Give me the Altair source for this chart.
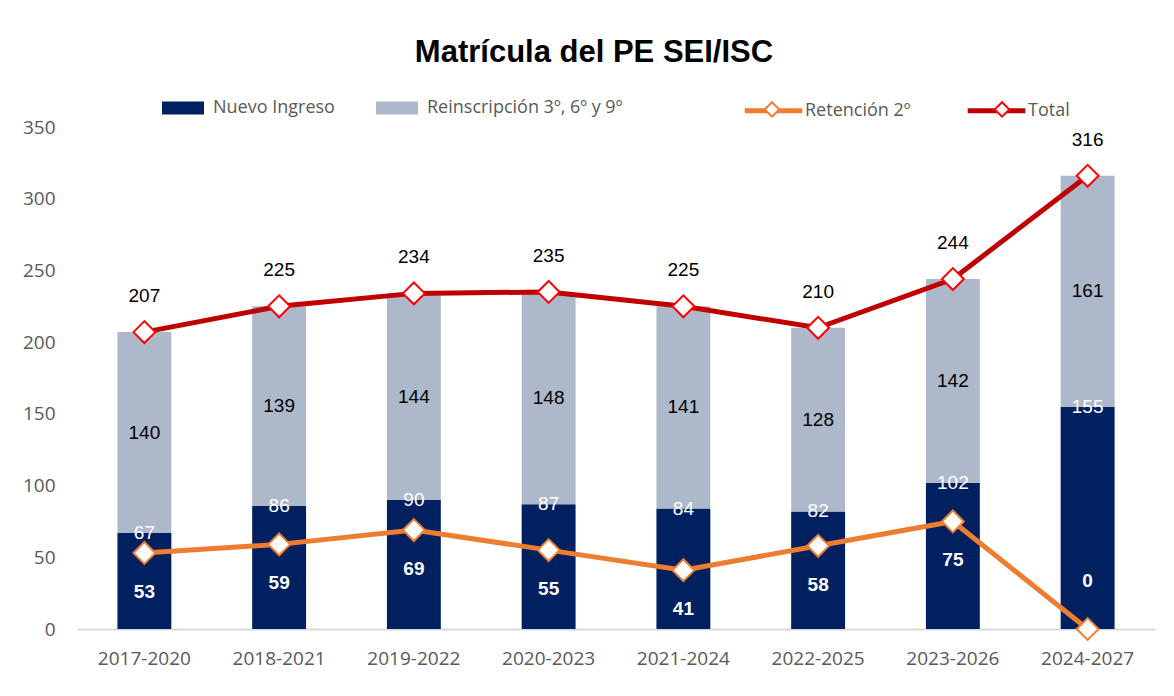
import altair as alt
import pandas as pd

cats = ["2017-2020", "2018-2021", "2019-2022", "2020-2023",
        "2021-2024", "2022-2025", "2023-2026", "2024-2027"]
nuevo = [67, 86, 90, 87, 84, 82, 102, 155]
reinsc = [140, 139, 144, 148, 141, 128, 142, 161]
retencion = [53, 59, 69, 55, 41, 58, 75, 0]
total = [207, 225, 234, 235, 225, 210, 244, 316]

N1 = "Nuevo Ingreso"
N2 = "Reinscripción 3º, 6º y 9º"
N3 = "Retención 2º"
N4 = "Total"

df = pd.DataFrame({"cat": cats, N1: nuevo, N2: reinsc, N3: retencion, N4: total})

NAVY = "#002060"
GRAY = "#ADB9CA"
ORANGE = "#ED7D31"
RED = "#C00000"
NARROW = "Liberation Sans Narrow, Liberation Sans, Arial, sans-serif"
SANS = "Open Sans, sans-serif"

x = alt.X("cat:N", sort=cats, title=None,
          scale=alt.Scale(paddingInner=0.6, paddingOuter=0.3),
          axis=alt.Axis(labelAngle=0, ticks=False, domainColor="#D9D9D9", domainWidth=2,
                        labelFont=SANS, labelFontSize=19, labelColor="#595959",
                        labelPadding=20))
yscale = alt.Scale(domain=[0, 350])

base = alt.Chart(df)

bars = base.transform_fold([N1, N2]).transform_calculate(
    ord="datum.key === 'Nuevo Ingreso' ? 0 : 1"
).mark_bar().encode(
    x=x,
    y=alt.Y("value:Q", stack="zero", scale=yscale, title=None,
            axis=alt.Axis(values=[0, 50, 100, 150, 200, 250, 300, 350], domain=False,
                          ticks=False, grid=False, labelFont=SANS, labelFontSize=19,
                          labelColor="#595959", labelPadding=22)),
    fill=alt.Fill("key:N", scale=alt.Scale(domain=[N1, N2], range=[NAVY, GRAY]),
                  legend=alt.Legend(title=None, orient="none", direction="horizontal",
                                    legendX=94, legendY=-31, padding=0,
                                    symbolType="M-1.75,-0.55H1.75V0.55H-1.75Z",
                                    symbolSize=576, symbolStrokeWidth=0,
                                    labelOffset=18, columnPadding=41, labelLimit=400,
                                    labelFont=SANS, labelFontSize=18,
                                    labelColor="#595959")),
    order=alt.Order("ord:Q"),
)

lines = base.transform_fold([N3, N4]).mark_line(strokeWidth=5).encode(
    x=x,
    y=alt.Y("value:Q", scale=yscale),
    stroke=alt.Stroke("key:N", scale=alt.Scale(domain=[N3, N4], range=[ORANGE, RED]),
                      legend=alt.Legend(title=None, orient="none", direction="horizontal",
                                        legendX=682, legendY=-31, padding=0, symbolSize=576,
                                        symbolType="M-2.4,0H2.4", symbolStrokeWidth=5,
                                        labelOffset=17, columnPadding=46, labelLimit=400,
                                        labelFont=SANS, labelFontSize=18,
                                        labelColor="#595959")),
)

points = base.transform_fold([N3, N4]).mark_point(
    shape="diamond", filled=False, fill="white", opacity=1, size=480, strokeWidth=2
).encode(
    x=x,
    y=alt.Y("value:Q", scale=yscale),
    stroke=alt.Stroke("key:N", scale=alt.Scale(domain=[N3, N4], range=[ORANGE, "#FF0000"]),
                      legend=alt.Legend(title=None, orient="none", direction="horizontal",
                                        legendX=682, legendY=-31, padding=0, symbolSize=576,
                                        symbolType="M-0.6,0L0,-0.6L0.6,0L0,0.6Z",
                                        symbolStrokeWidth=2, symbolFillColor="white",
                                        labelExpr="''", labelOffset=17, columnPadding=187)),
)

LFS = 19

lab_reinsc = base.transform_calculate(
    mid="datum['Nuevo Ingreso'] + datum['Reinscripción 3º, 6º y 9º'] / 2"
).mark_text(font=NARROW, fontSize=LFS, color="black", baseline="middle").encode(
    x=x, y=alt.Y("mid:Q", scale=yscale), text=alt.Text(f"{N2}:Q"))

lab_nuevo = base.mark_text(font=NARROW, fontSize=LFS, color="white", baseline="middle").encode(
    x=x, y=alt.Y(f"{N1}:Q", scale=yscale), text=alt.Text(f"{N1}:Q"))

lab_total = base.mark_text(font=NARROW, fontSize=LFS, color="black", baseline="middle",
                           dy=-36).encode(
    x=x, y=alt.Y(f"{N4}:Q", scale=yscale), text=alt.Text(f"{N4}:Q"))

lab_ret = base.transform_filter(f"datum['{N3}'] > 0").mark_text(
    font=NARROW, fontSize=LFS, fontWeight="bold", color="white", baseline="middle", dy=39
).encode(x=x, y=alt.Y(f"{N3}:Q", scale=yscale), text=alt.Text(f"{N3}:Q"))

lab_ret0 = base.transform_filter(f"datum['{N3}'] <= 0").mark_text(
    font=NARROW, fontSize=LFS, fontWeight="bold", color="white", baseline="middle", dy=-48
).encode(x=x, y=alt.Y(f"{N3}:Q", scale=yscale), text=alt.Text(f"{N3}:Q"))

chart = alt.layer(
    bars, lines, points, lab_reinsc, lab_nuevo, lab_total, lab_ret, lab_ret0
).resolve_scale(stroke="independent").properties(
    width=1078, height=502,
    padding={"left": 14, "top": 29, "right": 10, "bottom": 5},
    title=alt.Title("Matrícula del PE SEI/ISC", font=NARROW, fontSize=31,
                    fontWeight="bold", color="black", anchor="middle", offset=27, dx=-22),
).configure_view(stroke=None)

chart.save("out.html", embed_options={"renderer": "svg", "actions": False})
